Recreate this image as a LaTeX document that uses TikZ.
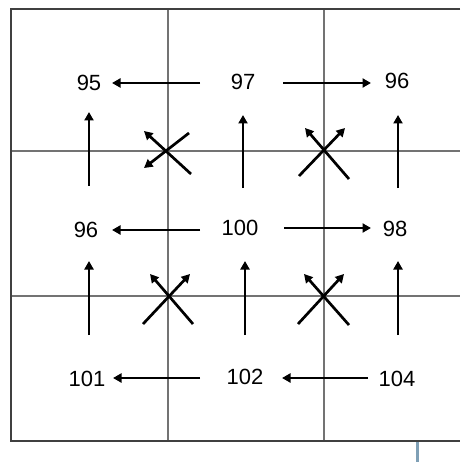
\documentclass[tikz,border=0pt]{standalone}
\usepackage{fontspec}
\setmainfont{Liberation Sans}
\usetikzlibrary{arrows.meta}
\begin{document}
\begin{tikzpicture}[x=1pt,y=-1pt,
  num/.style={font=\fontsize{22}{22}\selectfont, inner sep=0pt, text=black},
  grid/.style={draw=black!55, line width=1.2pt},
  arr/.style={draw=black, line width=2.7pt, -{Triangle[length=8.5pt,width=9pt]}},
  bar/.style={draw=black!75, line width=1.8pt}]
\useasboundingbox (0,0) rectangle (460,462);
% grid
\draw[grid] (168,9) -- (168,441);
\draw[grid] (324,9) -- (324,441);
\draw[grid] (11,151) -- (460,151);
\draw[grid] (11,296) -- (460,296);
\draw[bar] (460,9) -- (11,9) -- (11,441) -- (460,441);
\fill[fill={rgb,255:red,127;green,160;blue,182}] (416,442) rectangle (419,462);
% numbers
\node[num] (n95)  at (89,83) {95};
\node[num] (n97)  at (243,82) {97};
\node[num] (n96a) at (397,81) {96};
\node[num] (n96b) at (86,230) {96};
\node[num] (n100) at (240,228) {100};
\node[num] (n98)  at (395,229) {98};
\node[num] (n101) at (87,379) {101};
\node[num] (n102) at (245,377) {102};
\node[num] (n104) at (397,379) {104};
% arrow coordinates
\coordinate (h1a) at (200,83);  \coordinate (h1b) at (112,83);
\coordinate (h2a) at (283,83);  \coordinate (h2b) at (371,83);
\coordinate (h3a) at (200,230); \coordinate (h3b) at (112,230);
\coordinate (h4a) at (284,228); \coordinate (h4b) at (371,228);
\coordinate (h5a) at (200,378); \coordinate (h5b) at (113,378);
\coordinate (h6a) at (368,378); \coordinate (h6b) at (282,378);
\coordinate (v1a) at (89,186);  \coordinate (v1b) at (89,112);
\coordinate (v2a) at (243,188); \coordinate (v2b) at (243,115);
\coordinate (v3a) at (398,188); \coordinate (v3b) at (398,115);
\coordinate (v4a) at (89,335);  \coordinate (v4b) at (89,261);
\coordinate (v5a) at (245,335); \coordinate (v5b) at (245,261);
\coordinate (v6a) at (398,335); \coordinate (v6b) at (398,261);
% crosses
\coordinate (c1a) at (191,174); \coordinate (c1b) at (144,131);
\coordinate (c1c) at (189,133); \coordinate (c1d) at (144,168);
\coordinate (c2a) at (349,179); \coordinate (c2b) at (305,128);
\coordinate (c2c) at (299,176); \coordinate (c2d) at (345,128);
\coordinate (c3a) at (193,324); \coordinate (c3b) at (150,274);
\coordinate (c3c) at (143,324); \coordinate (c3d) at (190,274);
\coordinate (c4a) at (349,325); \coordinate (c4b) at (304,274);
\coordinate (c4c) at (298,324); \coordinate (c4d) at (344,274);
\foreach \p in {h1,h2,h3,h4,h5,h6,v1,v2,v3,v4,v5,v6}
  \draw[arr] (\p a) -- (\p b);
\draw[arr] (c1a) -- (c1b);
\draw[arr] (c1c) -- (c1d);
\draw[arr] (c2a) -- (c2b);
\draw[arr] (c2c) -- (c2d);
\draw[arr] (c3a) -- (c3b);
\draw[arr] (c3c) -- (c3d);
\draw[arr] (c4a) -- (c4b);
\draw[arr] (c4c) -- (c4d);
\end{tikzpicture}
\end{document}
